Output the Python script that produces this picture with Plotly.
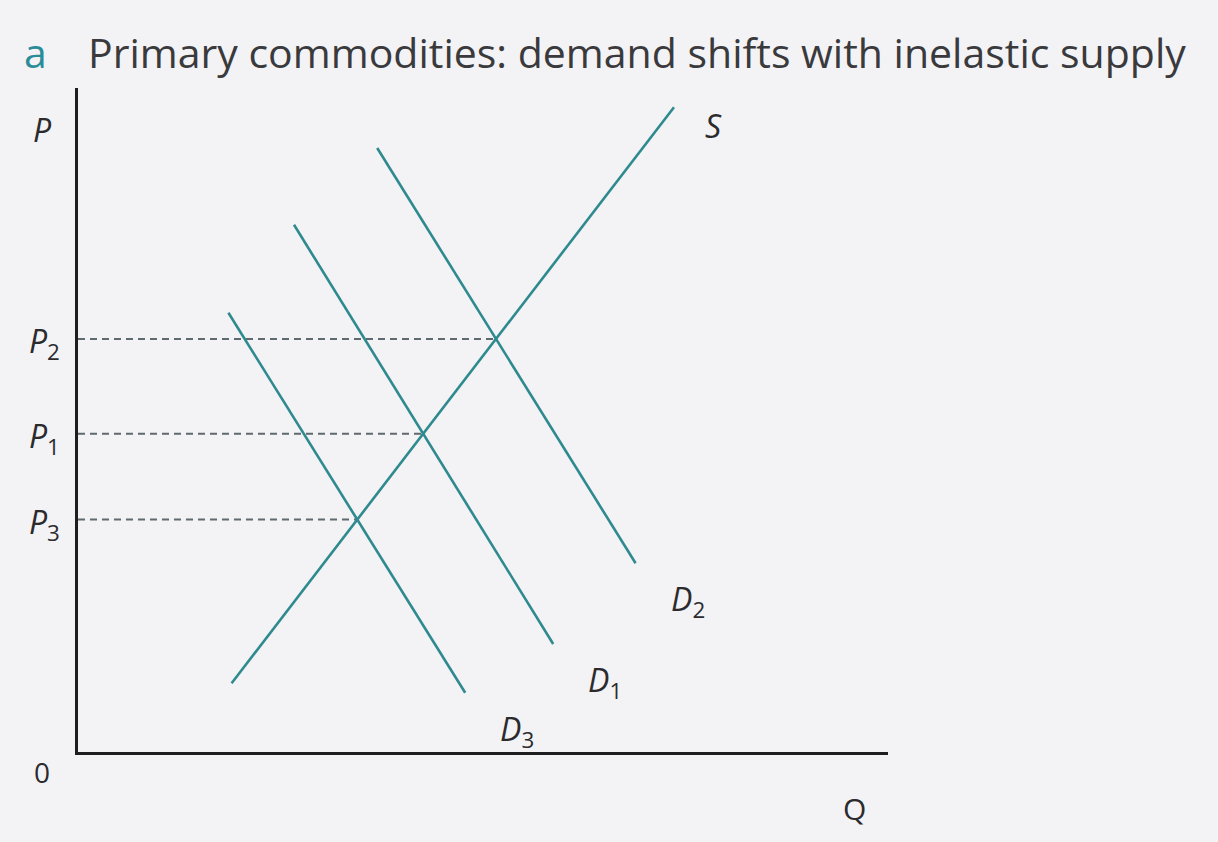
"""Primary commodities: demand shifts with inelastic supply (plotly)."""
import plotly.graph_objects as go

# curve end points (Q, P)
s_q = [1.92, 7.45]
s_p = [0.86, 8.06]
d2_q = [3.74, 6.97]
d2_p = [7.55, 2.36]
d1_q = [2.70, 5.94]
d1_p = [6.59, 1.35]
d3_q = [1.88, 4.84]
d3_p = [5.49, 0.74]

demand_names = ["2", "1", "3"]
price_names = ["2", "1", "3"]

TEAL = "#2e8a8f"
INK = "#2b2b2e"
FONT = "'Open Sans', Lato, sans-serif"


def intersect(aq, ap, bq, bp):
    """Crossing point of two straight segments given by their end points."""
    ma = (ap[1] - ap[0]) / (aq[1] - aq[0])
    mb = (bp[1] - bp[0]) / (bq[1] - bq[0])
    q = (bp[0] - ap[0] + ma * aq[0] - mb * bq[0]) / (ma - mb)
    return q, ap[0] + ma * (q - aq[0])


def label(sym, sub=None):
    text = f"<i>{sym}</i>"
    if sub:
        text += f"<sub>{sub}</sub>"
    return text


fig = go.Figure()

demands = [(d2_q, d2_p), (d1_q, d1_p), (d3_q, d3_p)]

# dashed price guides, drawn first so the curves sit on top
for (dq, dp), pname in zip(demands, price_names):
    eq, ep = intersect(s_q, s_p, dq, dp)
    fig.add_trace(go.Scatter(x=[0, eq], y=[ep, ep], mode="lines",
                             line=dict(color="#5f6a70", width=2, dash="7px,5px"),
                             hoverinfo="skip"))
    fig.add_annotation(x=0, y=ep, text=label("P", pname), showarrow=False,
                       xanchor="right", yanchor="middle", xshift=-16, yshift=-4,
                       font=dict(size=32, color=INK, family=FONT))

for (dq, dp), dname in zip(demands, demand_names):
    fig.add_trace(go.Scatter(x=dq, y=dp, mode="lines",
                             line=dict(color=TEAL, width=2.6), hoverinfo="skip"))
    fig.add_annotation(x=dq[1], y=dp[1], text=label("D", dname), showarrow=False,
                       xshift=52, yshift=-38,
                       font=dict(size=32, color=INK, family=FONT))

fig.add_trace(go.Scatter(x=s_q, y=s_p, mode="lines",
                         line=dict(color=TEAL, width=2.6), hoverinfo="skip"))
fig.add_annotation(x=s_q[1], y=s_p[1], text=label("S"), showarrow=False,
                   xshift=39, yshift=-18,
                   font=dict(size=32, color=INK, family=FONT))

# axis names and origin
fig.add_annotation(x=0, y=7.78, text=label("P"), showarrow=False,
                   xshift=-36, font=dict(size=32, color=INK, family=FONT))
fig.add_annotation(x=0, y=0, text="0", showarrow=False,
                   xshift=-36, yshift=-20, font=dict(size=28, color=INK, family=FONT))
fig.add_annotation(x=9.71, y=0, text="Q", showarrow=False,
                   yshift=-56, font=dict(size=30, color=INK, family=FONT))

# panel heading
fig.add_annotation(x=0, y=1.0, xref="paper", yref="paper", text="a",
                   showarrow=False, xanchor="left", yanchor="middle",
                   xshift=-56, yshift=36,
                   font=dict(size=41, color="#2a8c98", family=FONT))
fig.add_annotation(x=0, y=1.0, xref="paper", yref="paper",
                   text="Primary commodities: demand shifts with inelastic supply",
                   showarrow=False, xanchor="left", yanchor="middle",
                   xshift=8, yshift=36,
                   font=dict(size=41, color="#3a3a3d", family=FONT))

axis = dict(showgrid=False, zeroline=False, showticklabels=False, ticks="",
            showline=True, linecolor="#1e1e20", linewidth=3, fixedrange=True)
fig.update_layout(
    width=1218, height=842,
    margin=dict(l=78, r=330, t=88, b=90),
    paper_bgcolor="#f3f3f5", plot_bgcolor="#f3f3f5",
    showlegend=False,
    xaxis=dict(range=[0, 10.125], **axis),
    yaxis=dict(range=[0, 8.3], **axis),
)

# drop the browser's default page margin so the figure fills the window
fig.write_html("out.html",
               config={"displayModeBar": False},
               post_script="document.body.style.margin='0';"
                           "document.body.style.overflow='hidden';")
